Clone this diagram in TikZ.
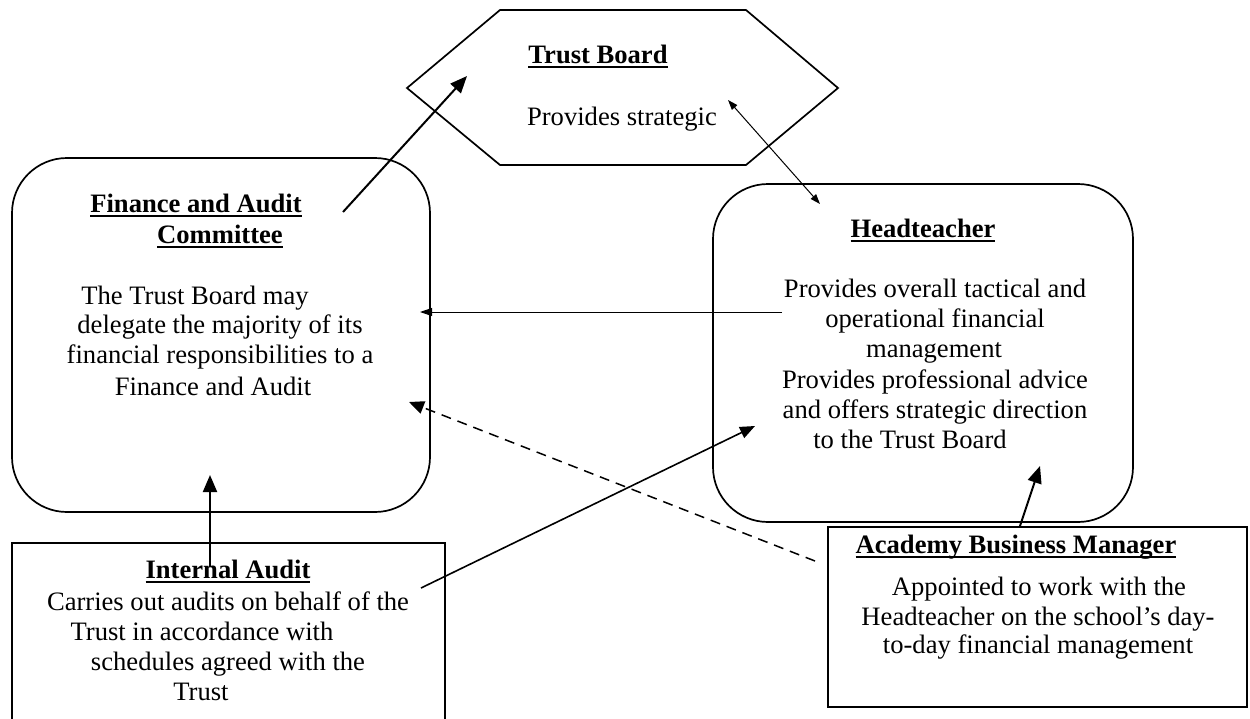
\documentclass[tikz,border=0pt]{standalone}
\usepackage{fontspec}
\setmainfont{Liberation Serif}
\usetikzlibrary{arrows.meta}
\newcommand\hdr[1]{\setbox0\hbox{\bfseries #1}\rlap{\rule[-5pt]{\wd0}{2pt}}\box0}
\begin{document}
\begin{tikzpicture}[x=1pt,y=-1pt,
  font=\fontsize{26.6}{30}\selectfont,
  box/.style={draw, line width=1.7pt, inner sep=0pt, outer sep=0pt, anchor=north west},
  txt/.style={anchor=base, inner sep=0pt},
  bigarrow/.style={line width=2pt, -{Triangle[length=17pt,width=14pt]}},
  midarrow/.style={line width=1.6pt, -{Triangle[length=15pt,width=12pt]}},
  thinarrow/.style={line width=1pt, -{Triangle[length=12pt,width=8pt]}},
  dblarrow/.style={line width=1pt, {Triangle[length=10pt,width=7pt]}-{Triangle[length=10pt,width=7pt]}},
  dasharrow/.style={line width=1.5pt, dash pattern=on 10pt off 7pt, -{Triangle[length=15pt,width=13pt]}}]
\useasboundingbox (0,0) rectangle (1250,718);
% Trust Board hexagon
\coordinate (h1) at (500,10);
\coordinate (h2) at (746,10);
\coordinate (h3) at (838,88);
\coordinate (h4) at (746,165);
\coordinate (h5) at (500,165);
\coordinate (h6) at (407,88);
\draw[line width=1.7pt, line join=miter] (h1) -- (h2) -- (h3) -- (h4) -- (h5) -- (h6) -- cycle;
\node[txt] (tbh) at (598,63) {\hdr{Trust Board}};
\node[txt] (tb1) at (622,125) {Provides strategic};
% Finance and Audit Committee
\node[box, rounded corners=55pt, minimum width=418pt, minimum height=354pt] (fin) at (12,158) {};
\node[txt] (finh1) at (196,212) {\hdr{Finance and Audit}};
\node[txt] (finh2) at (220,243) {\hdr{Committee}};
\node[txt] (fin1) at (195,304) {The Trust Board may};
\node[txt] (fin2) at (220,333) {delegate the majority of its};
\node[txt] (fin3) at (220,363) {financial responsibilities to a};
\node[txt] (fin4) at (213,395) {Finance and Audit};
% Headteacher
\node[box, rounded corners=55pt, minimum width=420pt, minimum height=338pt] (head) at (713,184) {};
\node[txt] (headh) at (923,237) {\hdr{Headteacher}};
\node[txt] (head1) at (935,297) {Provides overall tactical and};
\node[txt] (head2) at (935,327) {operational financial};
\node[txt] (head3) at (934,357) {management};
\node[txt] (head4) at (935,388) {Provides professional advice};
\node[txt] (head5) at (935,418) {and offers strategic direction};
\node[txt] (head6) at (910,448) {to the Trust Board};
% Internal Audit
\node[box, minimum width=433pt, minimum height=200pt] (ia) at (12,543) {};
\node[txt] (iah) at (228,578) {\hdr{Internal Audit}};
\node[txt] (ia1) at (228,610) {Carries out audits on behalf of the};
\node[txt] (ia2) at (202,640) {Trust in accordance with};
\node[txt] (ia3) at (228,670) {schedules agreed with the};
\node[txt] (ia4) at (201,700) {Trust};
% Academy Business Manager
\node[box, minimum width=419pt, minimum height=180pt] (abm) at (828,527) {};
\node[txt] (abmh) at (1016,553) {\hdr{Academy Business Manager}};
\node[txt] (abm1) at (1039,595) {Appointed to work with the};
\node[txt] (abm2) at (1038,625) {Headteacher on the school’s day-};
\node[txt] (abm3) at (1038,653) {to-day financial management};
% connector end points
\coordinate (finout) at (343,212);
\coordinate (tbin) at (467,76);
\coordinate (tbdbl) at (728,100);
\coordinate (headdbl) at (820,204);
\coordinate (headout) at (782,312);
\coordinate (finin) at (420,312);
\coordinate (abmout) at (815,561);
\coordinate (findash) at (409,402);
\coordinate (iaout) at (421,588);
\coordinate (headin) at (755,426);
\coordinate (abmup) at (1020,526);
\coordinate (headin2) at (1040,466);
\coordinate (iaup) at (210,567);
\coordinate (finin2) at (210,475);
% connectors
\draw[bigarrow] (finout) -- (tbin);
\draw[dblarrow] (tbdbl) -- (headdbl);
\draw[thinarrow] (headout) -- (finin);
\draw[dasharrow] (abmout) -- (findash);
\draw[midarrow] (iaout) -- (headin);
\draw[bigarrow] (abmup) -- (headin2);
\draw[bigarrow] (iaup) -- (finin2);
\end{tikzpicture}
\end{document}
